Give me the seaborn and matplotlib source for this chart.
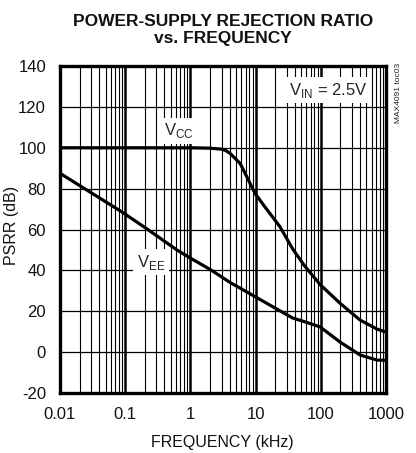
import numpy as np
import pandas as pd
import matplotlib
matplotlib.use("Agg")
import matplotlib.pyplot as plt
import seaborn as sns

# ---- data ----
freq_vcc = [0.01, 0.1, 1, 2, 3, 3.5, 4.05, 5.8, 7.3, 9.8, 13.2, 23.6, 37, 57, 98, 196, 400, 725, 900, 1000]
psrr_vcc = [100, 100, 100, 99.8, 99.3, 98.6, 97.3, 92.3, 85.9, 77.7, 72, 61.4, 50.5, 42, 33, 24, 15.7, 11.3, 10.3, 9.8]

freq_vee = [0.01, 0.03, 0.088, 0.2, 0.62, 1, 2, 4.1, 10, 16.6, 37, 60, 98, 196, 400, 725, 1000]
psrr_vee = [87.5, 78, 68.7, 61, 50, 46, 40.5, 34, 27, 23, 16.7, 14.6, 12.3, 5, -1.4, -3.9, -4]

x_ticks = [0.01, 0.1, 1, 10, 100, 1000]
x_tick_labels = ["0.01", "0.1", "1", "10", "100", "1000"]
y_ticks = [-20, 0, 20, 40, 60, 80, 100, 120, 140]

df = pd.concat([
    pd.DataFrame({"freq": freq_vcc, "psrr": psrr_vcc, "supply": "VCC"}),
    pd.DataFrame({"freq": freq_vee, "psrr": psrr_vee, "supply": "VEE"}),
])

sns.set_theme(style="white")
plt.rcParams["font.family"] = ["Liberation Sans", "DejaVu Sans"]
plt.rcParams["mathtext.fontset"] = "custom"
plt.rcParams["mathtext.rm"] = "Liberation Sans"
plt.rcParams["axes.unicode_minus"] = False

W, H = 416, 453
fig = plt.figure(figsize=(W/100, H/100), dpi=100)
ax = fig.add_axes([60/W, 1-393/H, 326/W, 327/H])

# grid
for d in [0.01, 0.1, 1, 10, 100]:
    for m in range(2, 10):
        ax.axvline(d*m, color="black", lw=0.8, zorder=1)
for d in [0.1, 1, 10, 100]:
    ax.axvline(d, color="black", lw=1.8, zorder=1)
for y in y_ticks[1:-1]:
    ax.axhline(y, color="black", lw=0.9, zorder=1)

sns.lineplot(data=df, x="freq", y="psrr", units="supply", estimator=None,
             color="black", lw=2.3, ax=ax, legend=False, zorder=3)

ax.set_xscale("log")
ax.set_xlim(0.01, 1000)
ax.set_ylim(-20, 140)
ax.set_xticks(x_ticks)
ax.set_xticklabels(x_tick_labels)
ax.set_yticks(y_ticks)
ax.minorticks_off()
ax.tick_params(axis="both", length=0, labelsize=12, colors="#111111")
ax.tick_params(axis="x", pad=10)
ax.tick_params(axis="y", pad=10)
for s in ax.spines.values():
    s.set_linewidth(2.4)
    s.set_color("black")
ax.set_xlabel("")
ax.set_ylabel("")

def lab(xpix, ypix, s, **kw):
    fig.text(xpix/W, 1-ypix/H, s, ha="center", va="center", **kw)

lab(222, 442, "FREQUENCY (kHz)", fontsize=11.5, color="#111111")
lab(12, 225, "PSRR (dB)", fontsize=11.5, rotation=90, color="#111111")

lab(223, 30, "POWER-SUPPLY REJECTION RATIO\nvs. FREQUENCY",
    fontsize=12.5, fontweight="bold", linespacing=1.15, color="#111111")

box = dict(facecolor="white", edgecolor="none", pad=2.5)
lab(179, 131, r"V$_{\mathregular{CC}}$", fontsize=12, bbox=box, zorder=5)
lab(151, 262, r"V$_{\mathregular{EE}}$", fontsize=12, bbox=box, zorder=5)
lab(328, 90, r"V$_{\mathregular{IN}}$ = 2.5V", fontsize=12, bbox=box, zorder=5)
lab(399, 93, "MAX4091 toc03", fontsize=6, rotation=90, color="#222222")

fig.savefig("out.png", dpi=100)
